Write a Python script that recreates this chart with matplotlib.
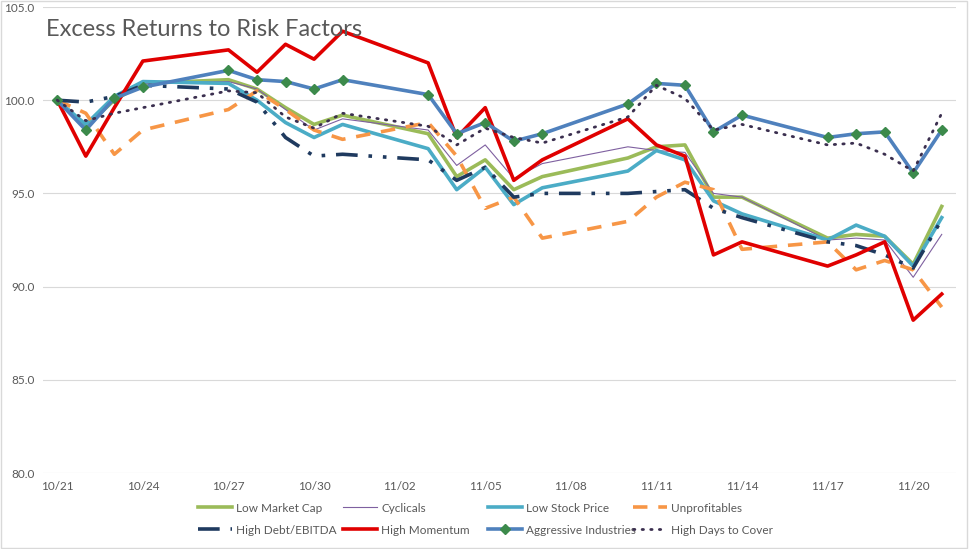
import numpy as np
import pandas as pd
import matplotlib
matplotlib.use('Agg')
import matplotlib.pyplot as plt
import matplotlib.dates as mdates
from matplotlib.patches import Rectangle

plt.rcParams['font.family'] = ['Lato', 'DejaVu Sans']

# trading days, Oct 21 - Nov 21 (2014)
dates = pd.to_datetime([
    '2014-10-21', '2014-10-22', '2014-10-23', '2014-10-24', '2014-10-27',
    '2014-10-28', '2014-10-29', '2014-10-30', '2014-10-31', '2014-11-03',
    '2014-11-04', '2014-11-05', '2014-11-06', '2014-11-07', '2014-11-10',
    '2014-11-11', '2014-11-12', '2014-11-13', '2014-11-14', '2014-11-17',
    '2014-11-18', '2014-11-19', '2014-11-20', '2014-11-21'])

low_mkt_cap = [100.0, 98.6, 100.0, 100.9, 101.1, 100.6, 99.6, 98.7, 99.2, 98.2,
               95.9, 96.8, 95.2, 95.9, 96.9, 97.5, 97.6, 94.8, 94.8, 92.6,
               92.8, 92.7, 91.2, 94.3]
cyclicals = [100.0, 98.6, 100.1, 100.9, 101.0, 100.6, 99.5, 98.4, 99.0, 98.4,
             96.5, 97.6, 95.8, 96.6, 97.5, 97.3, 97.2, 95.0, 94.8, 92.5,
             92.6, 92.5, 90.5, 92.8]
low_stock_price = [100.0, 98.7, 100.2, 101.0, 100.9, 100.0, 98.8, 98.0, 98.7, 97.4,
                   95.2, 96.4, 94.4, 95.3, 96.2, 97.3, 96.8, 94.6, 93.9, 92.5,
                   93.3, 92.7, 91.1, 93.7]
unprofitables = [100.0, 99.3, 97.1, 98.4, 99.5, 100.5, 99.5, 98.4, 97.9, 98.8,
                 97.0, 94.2, 94.8, 92.6, 93.5, 94.8, 95.6, 95.2, 92.0, 92.4,
                 90.9, 91.4, 90.9, 88.9]
high_debt = [100.0, 99.9, 100.2, 100.8, 100.6, 99.9, 98.0, 97.0, 97.1, 96.8,
             95.7, 96.4, 94.8, 95.0, 95.0, 95.1, 95.2, 94.2, 93.7, 92.4,
             92.2, 91.7, 91.0, 93.6]
high_momentum = [100.0, 97.0, 99.6, 102.1, 102.7, 101.5, 103.0, 102.2, 103.7, 102.0,
                 98.0, 99.6, 95.7, 96.8, 99.0, 97.6, 97.0, 91.7, 92.4, 91.1,
                 91.7, 92.4, 88.2, 89.6]
aggressive = [100.0, 98.4, 100.1, 100.7, 101.6, 101.1, 101.0, 100.6, 101.1, 100.3,
              98.2, 98.8, 97.8, 98.2, 99.8, 100.9, 100.8, 98.3, 99.2, 98.0,
              98.2, 98.3, 96.1, 98.4]
days_to_cover = [100.0, 98.9, 99.3, 99.6, 100.5, 100.4, 99.1, 98.5, 99.3, 98.6,
                 97.6, 98.5, 98.0, 97.7, 99.1, 100.8, 100.1, 98.4, 98.7, 97.6,
                 97.7, 97.1, 96.2, 99.3]

tick_dates = pd.date_range('2014-10-21', '2014-11-20', freq='3D')

fig = plt.figure(figsize=(9.69, 5.49), dpi=100)
ax = fig.add_axes([43 / 969, 1 - 473 / 549, (956 - 43) / 969, (473 - 7) / 549])

lw = 2.6
ax.plot(dates, low_mkt_cap, color='#9BBB59', lw=lw, label='Low Market Cap')
ax.plot(dates, cyclicals, color='#7F60A0', lw=0.8, label='Cyclicals')
ax.plot(dates, low_stock_price, color='#4BACC6', lw=lw, label='Low Stock Price')
ax.plot(dates, unprofitables, color='#F79646', lw=lw, dashes=(4, 3),
        label='Unprofitables')
ax.plot(dates, high_debt, color='#1F3A5F', lw=lw, dashes=(6, 3, 1, 3, 1, 3),
        label='High Debt/EBITDA')
ax.plot(dates, high_momentum, color='#E00000', lw=lw, label='High Momentum')
ax.plot(dates, aggressive, color='#4F81BD', lw=lw, marker='D', ms=5,
        mfc='#3C8A4B', mec='#3C8A4B', label='Aggressive Industries')
ax.plot(dates, days_to_cover, color='#3B2F4F', lw=2.0, dashes=(0.5, 2.6),
        dash_capstyle='round', label='High Days to Cover')

ax.set_ylim(80, 105)
ax.set_yticks(np.arange(80, 105.1, 5))
ax.yaxis.set_major_formatter(matplotlib.ticker.FormatStrFormatter('%.1f'))
ax.set_xlim(dates[0] - pd.Timedelta(hours=12), dates[-1] + pd.Timedelta(hours=12))
ax.set_xticks(tick_dates)
ax.xaxis.set_major_formatter(mdates.DateFormatter('%m/%d'))
ax.grid(axis='y', color='#D9D9D9', lw=0.8)
ax.set_axisbelow(True)
for s in ax.spines.values():
    s.set_visible(False)
ax.tick_params(length=0, labelsize=8.5, colors='#595959', pad=6)

ax.text(0.003, 0.975, 'Excess Returns to Risk Factors', transform=ax.transAxes,
        fontsize=17, color='#595959', va='top', ha='left')

# legend laid out like Excel: equal-width columns, two rows
handles, labels = ax.get_legend_handles_labels()
for i, (h, l) in enumerate(zip(handles, labels)):
    col, row = i % 4, i // 4
    x0 = (198 + 145 * col) / 969
    y0 = 1 - (508 + 22 * row) / 549
    leg = fig.legend([h], [l], loc='center left', bbox_to_anchor=(x0, y0),
                     frameon=False, fontsize=8.5, labelcolor='#595959',
                     handlelength=2.9, handletextpad=0.35, borderpad=0,
                     borderaxespad=0)

fig.add_artist(Rectangle((0.001, 0.001), 0.997, 0.997, transform=fig.transFigure,
                         fill=False, edgecolor='#D9D9D9', lw=1))

fig.savefig('out.png', dpi=100)
